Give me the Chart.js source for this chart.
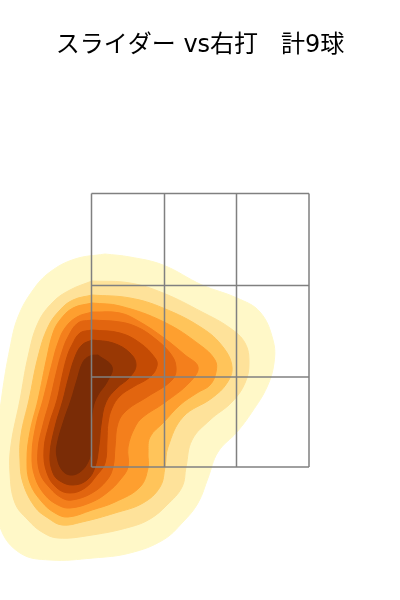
<!DOCTYPE html>
<html>
<head>
<meta charset="utf-8">
<script src="https://cdn.jsdelivr.net/npm/chart.js@4"></script>
<style>
  body { margin: 0; background: #fff; }
</style>
</head>
<body>
<canvas id="chart" width="400" height="600"></canvas>
<script>
const titleText = 'スライダー vs右打   計9球';

// strike zone grid, cm from plate centre / above ground
const zoneX = [-21.7, -7.1, 7.3, 21.8];
const zoneY = [81.3, 62.9, 44.6, 26.6];

// density bands, lightest to darkest
const bandColors = ['#fff8c8', '#fee29a', '#ffc45a', '#fe9f2f', '#f47f1c', '#e2650f', '#c44b04', '#993804', '#7a2c06'];

const band1X = [-19, -14, -7.4, 0.4, 7.4, 12, 14.6, 14.8, 13.4, 10.4, 7.4, 3.6, 1.6, -0.4, -3.4, -7.4, -14, -21.4, -30, -36, -40, -41.2, -40.6, -39.6, -38, -36.4, -33.4, -30, -25];
const band1Y = [69.2, 68.6, 67, 63, 60.4, 57.6, 52, 47.4, 42.6, 37.6, 33.6, 29.6, 24.4, 19.4, 15.6, 12, 9.4, 8.4, 8, 9.4, 14.6, 24, 32, 41, 50.4, 56.6, 62, 65.6, 68.2];
const band2X = [-21.6, -14, -7.4, 0.4, 6, 9, 9.8, 9, 6.4, 2, -1.6, -2.8, -3.6, -6.6, -10, -14, -21.6, -28.4, -31.6, -34.4, -37, -38, -37.8, -36, -34.4, -32.4, -29.4, -26];
const band2Y = [63.8, 63.4, 61.4, 57.6, 54.4, 51.4, 47.4, 43.4, 39.6, 36, 32, 26.6, 22.6, 19, 16.2, 14.6, 13, 12.4, 13.6, 16, 19.4, 25.4, 31, 40, 48.6, 55.4, 59.6, 62];
const band3X = [-21.6, -14, -7.4, 0.4, 4.6, 6.4, 5.4, 2.4, -3.4, -6.4, -7, -8, -11.4, -17, -23.6, -27.6, -30.4, -33, -35.4, -36, -35.8, -34.2, -32.4, -30.4, -28, -25.4];
const band3Y = [61, 60.4, 58.4, 54.4, 50.6, 46.6, 43.4, 40.4, 36.6, 30.6, 26.6, 22.6, 19.4, 17.4, 15.6, 15, 16.4, 18.6, 23.4, 28, 33, 40, 48.6, 54.6, 58, 60];
const band4X = [-21.6, -16, -7.2, 0, 3, 3.2, 2, -0.6, -4, -7.2, -10, -10.4, -10.4, -12, -17, -21.6, -26.4, -29, -31.6, -34, -34.6, -34, -32.4, -30.6, -29.4, -28, -25.4];
const band4Y = [59.4, 58.8, 55.6, 51, 48, 45.6, 43, 41.4, 39, 35.6, 32.6, 29.4, 26.4, 22.6, 19.6, 18, 16.6, 17.4, 19.6, 23.4, 28, 33.6, 40, 48.6, 53.4, 56, 58.4];
const band5X = [-21.6, -16, -12, -7.2, -3, -0.4, -2, -7.2, -11.4, -13, -14.4, -14.4, -16, -18.4, -21.6, -26, -28.4, -31, -33, -33.6, -32.8, -31.4, -29.4, -28.4, -27, -24.6];
const band5Y = [57.6, 57.4, 55.6, 52.4, 49, 46.6, 43.6, 39.4, 36.6, 34.6, 30.6, 26.6, 24, 21.6, 19.6, 18.4, 19, 21, 24.6, 29, 35, 40, 48, 51.4, 54.4, 56.6];
const band6X = [-21.6, -16, -12.6, -9.4, -6, -4.8, -5.6, -10.6, -14.6, -16.4, -17, -17.4, -18.6, -21.6, -25.6, -27.6, -30, -32, -32.4, -31.4, -30, -28.6, -27.6, -26.4, -24.4];
const band6Y = [56, 55.6, 54.6, 52.6, 49.4, 46.6, 44, 40.6, 38, 35.4, 30.6, 26.6, 24, 21.4, 20, 20.4, 22.4, 25.4, 30, 35, 40, 46, 49.6, 52.6, 55.4];
const band7X = [-21.6, -16, -12, -9, -8.6, -10, -13.4, -16, -17.6, -18.4, -18.6, -19, -20.6, -23, -26, -28.6, -30.6, -31.2, -30.2, -28.6, -27.6, -26.6, -25.6, -24];
const band7Y = [54, 53.4, 51.4, 48.4, 46.8, 44.6, 42.6, 40.8, 38.4, 35.4, 32, 27.4, 25, 22.4, 21.4, 22.4, 25.4, 30, 35, 40, 44.6, 48.6, 51, 53.4];
const band8X = [-21.6, -17.4, -14, -12.8, -14, -16.6, -18.8, -19.8, -20.2, -21, -22.6, -25.4, -28, -29.4, -30, -29, -27.4, -26.4, -25, -23.6];
const band8Y = [52, 51.4, 49.4, 47, 44.6, 42.4, 39.6, 35, 31, 26.6, 24, 23, 23.8, 25.4, 29, 34.6, 40, 44, 48.6, 51];
const band9X = [-20.4, -17.6, -18.6, -20.4, -21.4, -21.8, -21.8, -22.4, -24, -26, -27.6, -28.6, -28.6, -27.2, -25.8, -24.6, -23.4, -22];
const band9Y = [49, 46.6, 43.6, 41, 38.4, 34, 30, 27.6, 25.6, 25, 26, 28.6, 31, 36, 40, 44, 47.6, 48.8];

const bandXs = [band1X, band2X, band3X, band4X, band5X, band6X, band7X, band8X, band9X];
const bandYs = [band1Y, band2Y, band3Y, band4Y, band5Y, band6Y, band7Y, band8Y, band9Y];

const datasets = [];

// closed outline for each band, later bands paint over earlier ones
bandXs.forEach((xs, i) => {
  const points = xs.map((x, j) => ({ x: x, y: bandYs[i][j] }));
  points.push(points[0]);
  datasets.push({
    data: points,
    showLine: true,
    fill: 'shape',
    tension: 0.4,
    pointRadius: 0,
    borderWidth: 1,
    borderColor: bandColors[i], // lineWidth 0 is ignored by canvas, so stroke in the fill colour
    backgroundColor: bandColors[i],
    order: 20 - i
  });
});

// zone lines sit on top of the fills
const addZoneLine = (points) => {
  datasets.push({
    data: points,
    showLine: true,
    fill: false,
    pointRadius: 0,
    borderWidth: 1.5,
    borderColor: '#808080',
    order: 0
  });
};
const zoneTop = zoneY[0];
const zoneBottom = zoneY[zoneY.length - 1];
const zoneLeft = zoneX[0];
const zoneRight = zoneX[zoneX.length - 1];
zoneX.forEach(x => addZoneLine([{ x: x, y: zoneTop }, { x: x, y: zoneBottom }]));
zoneY.forEach(y => addZoneLine([{ x: zoneLeft, y: y }, { x: zoneRight, y: y }]));

new Chart(document.getElementById('chart'), {
  type: 'scatter',
  data: { datasets: datasets },
  options: {
    responsive: false,
    animation: false,
    layout: { padding: 0 },
    plugins: {
      legend: { display: false },
      tooltip: { enabled: false },
      title: {
        display: true,
        text: titleText,
        color: '#000',
        font: { family: "'DejaVu Sans', 'Noto Sans CJK JP'", size: 24, weight: 'normal', lineHeight: 1.2 },
        padding: { top: 31, bottom: 0.2 }
      }
    },
    scales: {
      x: { type: 'linear', display: false, min: -40, max: 40 },
      y: { type: 'linear', display: false, min: 0, max: 108 }
    }
  }
});
</script>
</body>
</html>
